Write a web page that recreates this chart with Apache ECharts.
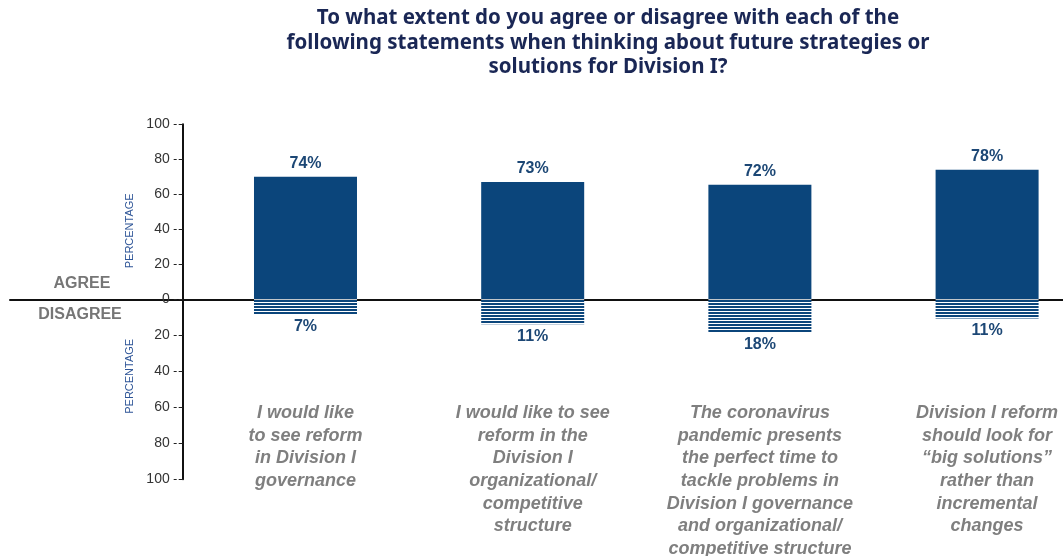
<!DOCTYPE html>
<html>
<head>
<meta charset="utf-8">
<script src="https://cdn.jsdelivr.net/npm/echarts@6/dist/echarts.min.js"></script>
<style>
  html, body { margin: 0; padding: 0; background: #fff; }
  #main { width: 1063px; height: 556px; }
</style>
</head>
<body>
<div id="main"></div>
<script>
// statements (one per bar pair)
var categories = [
    'I would like\nto see reform\nin Division I\ngovernance',
    'I would like to see\nreform in the\nDivision I\norganizational/\ncompetitive\nstructure',
    'The coronavirus\npandemic presents\nthe perfect time to\ntackle problems in\nDivision I governance\nand organizational/\ncompetitive structure',
    'Division I reform\nshould look for\n\u201cbig solutions\u201d\nrather than\nincremental\nchanges'
];
// printed percentages
var agreePct = [74, 73, 72, 78];
var disagreePct = [7, 11, 18, 11];
// bar lengths as drawn in the picture
var agreeBars = [70, 67, 65.5, 74];
var disagreeBars = [8.7, 13.9, 18.3, 10.6];

var navy = '#0b457b';
var labelBlue = '#1c4775';

// horizontal stripes for the disagree bars
var stripe = document.createElement('canvas');
stripe.width = 4;
stripe.height = 3;
var ctx = stripe.getContext('2d');
ctx.fillStyle = '#ffffff';
ctx.fillRect(0, 0, 4, 3);
ctx.fillStyle = navy;
ctx.fillRect(0, 0, 4, 2);

var myChart = echarts.init(document.getElementById('main'));

var xMin = -1.3006, xMax = 3.3341;

var tickStyle = {
    show: true,
    length: 9,
    lineStyle: { color: '#222', width: 1, type: [4, 2] }
};
var tickLabel = {
    fontFamily: 'Liberation Sans',
    fontSize: 14,
    color: '#333',
    margin: 13
};

var option = {
    animation: false,
    backgroundColor: '#fff',
    title: [
        {
            text: 'To what extent do you agree or disagree with each of the\nfollowing statements when thinking about future strategies or\nsolutions for Division I?',
            left: 608,
            top: 6,
            padding: 0,
            textAlign: 'center',
            textStyle: {
                fontFamily: 'Noto Sans',
                fontWeight: 'bold',
                fontSize: 20.5,
                lineHeight: 24.5,
                color: '#1a2755'
            }
        },
        {
            text: 'AGREE',
            left: 82, top: 276, padding: 0, textAlign: 'center',
            textStyle: { fontFamily: 'Liberation Sans', fontWeight: 'bold', fontSize: 16, lineHeight: 16, color: '#767676' }
        },
        {
            text: 'DISAGREE',
            left: 80, top: 307, padding: 0, textAlign: 'center',
            textStyle: { fontFamily: 'Liberation Sans', fontWeight: 'bold', fontSize: 16, lineHeight: 16, color: '#767676' }
        }
    ],
    grid: [
        { left: 10, right: 0, top: 124.3, height: 175, outerBoundsMode: 'none' },
        { left: 10, right: 0, top: 299.3, height: 180, outerBoundsMode: 'none' },
        { left: 305.5, right: 75.9, top: 300, height: 98, outerBoundsMode: 'none' }
    ],
    xAxis: [
        {
            type: 'value', gridIndex: 0, min: xMin, max: xMax,
            axisLine: { show: true, onZero: false, lineStyle: { color: '#111', width: 2 } },
            axisTick: { show: false }, axisLabel: { show: false }, splitLine: { show: false }
        },
        {
            type: 'value', gridIndex: 1, min: xMin, max: xMax, position: 'top',
            axisLine: { show: false }, axisTick: { show: false },
            axisLabel: { show: false }, splitLine: { show: false }
        },
        {
            type: 'category', gridIndex: 2, data: categories, boundaryGap: false,
            axisLine: { show: false }, axisTick: { show: false },
            axisLabel: {
                interval: 0,
                margin: 4,
                fontFamily: 'Liberation Sans',
                fontStyle: 'italic',
                fontWeight: 'bold',
                fontSize: 18,
                lineHeight: 22.6,
                color: '#7f7f7f'
            }
        }
    ],
    yAxis: [
        {
            type: 'value', gridIndex: 0, min: 0, max: 100, interval: 20,
            offset: -172.7,
            name: 'PERCENTAGE', nameLocation: 'middle', nameRotate: 90, nameGap: 43,
            nameTextStyle: { fontFamily: 'Liberation Sans', fontSize: 11, color: '#2e5597', padding: [0, 38, 0, 0] },
            axisLine: { show: true, onZero: false, lineStyle: { color: '#111', width: 2 } },
            axisTick: tickStyle,
            axisLabel: tickLabel,
            splitLine: { show: false }
        },
        {
            type: 'value', gridIndex: 1, min: 0, max: 100, interval: 20, inverse: true,
            offset: -172.7,
            name: 'PERCENTAGE', nameLocation: 'middle', nameRotate: 90, nameGap: 43,
            nameTextStyle: { fontFamily: 'Liberation Sans', fontSize: 11, color: '#2e5597', padding: [0, 0, 0, 26] },
            axisLine: { show: true, onZero: false, lineStyle: { color: '#111', width: 2 } },
            axisTick: tickStyle,
            axisLabel: Object.assign({}, tickLabel, { showMinLabel: false }),
            splitLine: { show: false }
        },
        { type: 'value', gridIndex: 2, show: false }
    ],
    series: [
        {
            name: 'Agree',
            type: 'bar',
            xAxisIndex: 0, yAxisIndex: 0,
            barWidth: 103,
            data: agreeBars.map(function (v, i) { return [i, v]; }),
            itemStyle: { color: navy },
            label: {
                show: true, position: 'top', distance: 5,
                fontFamily: 'Liberation Sans', fontWeight: 'bold', fontSize: 16, color: labelBlue,
                formatter: function (p) { return agreePct[p.dataIndex] + '%'; }
            }
        },
        {
            name: 'Disagree',
            type: 'bar',
            xAxisIndex: 1, yAxisIndex: 1,
            barWidth: 103,
            data: disagreeBars.map(function (v, i) { return [i, v]; }),
            itemStyle: { color: { image: stripe, repeat: 'repeat' } },
            label: {
                show: true, position: 'bottom', distance: 4,
                fontFamily: 'Liberation Sans', fontWeight: 'bold', fontSize: 16, color: labelBlue,
                formatter: function (p) { return disagreePct[p.dataIndex] + '%'; }
            }
        }
    ]
};
myChart.setOption(option);
</script>
</body>
</html>
